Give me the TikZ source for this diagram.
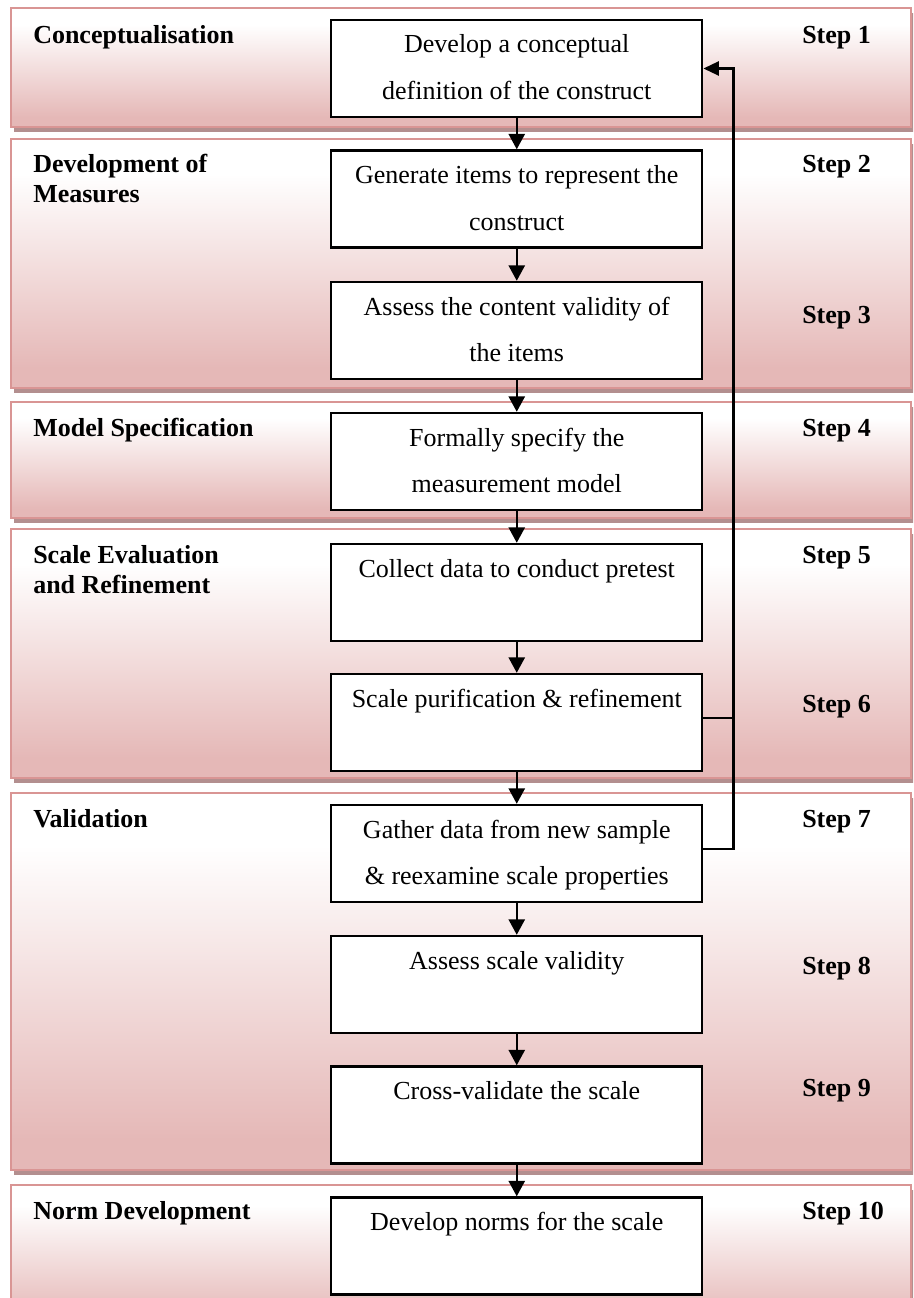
\documentclass[tikz,border=0pt]{standalone}
\usepackage{fontspec}
\setmainfont{Liberation Serif}
\usetikzlibrary{arrows.meta}

\definecolor{bandpink}{HTML}{E5B8B7}
\definecolor{bandline}{HTML}{D99594}
\definecolor{bandshade}{HTML}{B38F8F}

% white at the top of a band, fading to pink at its bottom
\pgfdeclareverticalshading{bandfill}{100bp}{color(0bp)=(bandpink); color(25bp)=(bandpink); color(29bp)=(bandpink); color(68bp)=(white); color(100bp)=(white)}

\begin{document}
\begin{tikzpicture}[x=0.75pt,y=0.75pt,
  band/.style={draw=bandline, line width=1.7pt, shading=bandfill},
  bandshadow/.style={fill=bandshade},
  stagelabel/.style={anchor=base west, inner sep=0pt,
    font=\fontsize{19.5pt}{22.5pt}\selectfont\bfseries},
  steplabel/.style={anchor=base west, inner sep=0pt,
    font=\fontsize{19.5pt}{22.5pt}\selectfont\bfseries},
  stepbox/.style={draw=black, line width=1.8pt, fill=white, inner sep=0pt,
    font=\fontsize{19.5pt}{34.9pt}\selectfont,
    execute at begin node={\begin{minipage}[c][72.75pt][t]{278.25pt}\centering\rule{0pt}{24.75pt}},
    execute at end node={\end{minipage}}},
  flow/.style={line width=1.7pt, -{Triangle[width=12pt,length=11.5pt]}},
  loopline/.style={line width=1.6pt}
]
\useasboundingbox (0,0) rectangle (913,-1298);
\fill[white] (0,0) rectangle (913,-1298);
\clip (0,0) rectangle (913,-1298);

% stage bands with their drop shadows
\foreach \t/\b in {8/127,139/388,402/518,529/778,793/1170,1185/1330} {
  \fill[bandshadow] (14,-\t-5) rectangle (916,-\b-5);
  \path[band] (11,-\t) rectangle (911,-\b);
}

% stage names
\node[stagelabel] (s1) at (33,-44) {Conceptualisation};
\node[stagelabel] (s2) at (33,-173) {\begin{tabular}[t]{@{}l@{}}Development of\\Measures\end{tabular}};
\node[stagelabel] (s3) at (33,-436) {Model Specification};
\node[stagelabel] (s4) at (33,-563) {\begin{tabular}[t]{@{}l@{}}Scale Evaluation\\and Refinement\end{tabular}};
\node[stagelabel] (s5) at (33,-827) {Validation};
\node[stagelabel] (s6) at (33,-1219) {Norm Development};

% step numbers
\node[steplabel] (n1) at (802,-44) {Step 1};
\node[steplabel] (n2) at (802,-173) {Step 2};
\node[steplabel] (n3) at (802,-323) {Step 3};
\node[steplabel] (n4) at (802,-436) {Step 4};
\node[steplabel] (n5) at (802,-563) {Step 5};
\node[steplabel] (n6) at (802,-712) {Step 6};
\node[steplabel] (n7) at (802,-827) {Step 7};
\node[steplabel] (n8) at (802,-974) {Step 8};
\node[steplabel] (n9) at (802,-1096) {Step 9};
\node[steplabel] (n10) at (802,-1219) {Step 10};

% the steps
\node[stepbox] (b1) at (516.75,-68.5) {Develop a conceptual\\definition of the construct};
\node[stepbox] (b2) at (516.75,-199) {Generate items to represent the\\construct};
\node[stepbox] (b3) at (516.75,-330.5) {Assess the content validity of\\the items};
\node[stepbox] (b4) at (516.75,-461.5) {Formally specify the\\measurement model};
\node[stepbox] (b5) at (516.75,-592.5) {Collect data to conduct pretest};
\node[stepbox] (b6) at (516.75,-722.5) {Scale purification \& refinement};
\node[stepbox] (b7) at (516.75,-853.5) {Gather data from new sample\\\& reexamine scale properties};
\node[stepbox] (b8) at (516.75,-984.5) {Assess scale validity};
\node[stepbox] (b9) at (516.75,-1115) {Cross-validate the scale};
\node[stepbox] (b10) at (516.75,-1246) {Develop norms for the scale};

% main flow
\foreach \a/\b in {b1/b2,b2/b3,b3/b4,b4/b5,b5/b6,b6/b7,b7/b8,b8/b9,b9/b10}
  \draw[flow] (\a.south) -- (\b.north);

% feedback loop back to the first step
\coordinate (fb) at (733.5,0);
\draw[loopline, -{Triangle[width=10.5pt,length=11.5pt]}]
  ([yshift=3.4pt]b7.east) -| (fb |- b1.east) -- (b1.east);
\draw[loopline] ([yshift=3.4pt]b6.east) -- ([yshift=3.4pt]b6.east -| fb);
\end{tikzpicture}
\end{document}
